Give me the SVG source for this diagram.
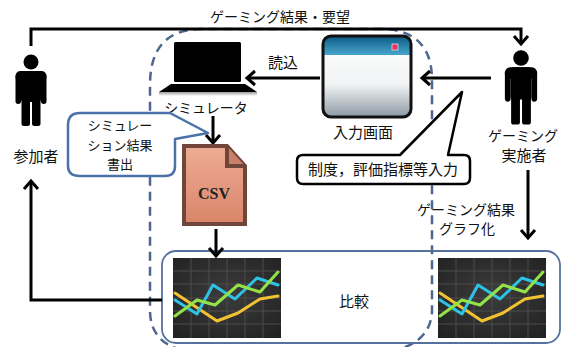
<svg xmlns="http://www.w3.org/2000/svg" xmlns:xlink="http://www.w3.org/1999/xlink" width="566" height="347" viewBox="0 0 566 347">
  <style>
    text { font-family: "Noto Sans CJK JP", "Noto Sans", sans-serif; fill: #111; text-anchor: middle; }
    .lbl { font-size: 14px; }
    .big { font-size: 15px; }
    .note { font-size: 13px; }
    .conn { fill: none; stroke: #000; stroke-width: 3; marker-end: url(#chev); }
    .zone { fill: none; stroke: #4d6690; stroke-width: 2.5; stroke-dasharray: 9 6; }
    .frame { fill: none; stroke: #56729c; stroke-width: 1.8; }
    .body { fill: #000; }
  </style>
  <defs>
    <marker id="chev" markerUnits="userSpaceOnUse" markerWidth="20" markerHeight="20" viewBox="-12 -10 14 20" refX="0" refY="0" orient="auto">
      <path d="M -8 -7 L 0 0 L -8 7" fill="none" stroke="#000" stroke-width="3"/>
    </marker>
    <!-- stick figure, head centred on the origin -->
    <g id="person">
      <circle cx="0" cy="0" r="7.5" class="body"/>
      <rect x="-15.5" y="9" width="31" height="11" rx="5" class="body"/>
      <rect x="-10" y="9" width="20" height="31" rx="3" class="body"/>
      <rect x="-15.5" y="12" width="5.5" height="30" rx="2.7" class="body"/>
      <rect x="10" y="12" width="5.5" height="30" rx="2.7" class="body"/>
      <rect x="-9.5" y="34" width="8.5" height="30" rx="2.5" class="body"/>
      <rect x="1" y="34" width="8.5" height="30" rx="2.5" class="body"/>
    </g>
    <radialGradient id="chartBg" cx="0.5" cy="0.45" r="0.7">
      <stop offset="0" stop-color="#3c3c3c"/>
      <stop offset="1" stop-color="#222"/>
    </radialGradient>
    <symbol id="chart" viewBox="0 0 108 80">
      <rect x="0" y="0" width="108" height="80" fill="url(#chartBg)"/>
      <g stroke="#4c4c4c" stroke-width="1">
        <path d="M18 0V80M36 0V80M54 0V80M72 0V80M90 0V80"/>
        <path d="M0 13H108M0 26H108M0 40H108M0 53H108M0 66H108"/>
      </g>
      <g fill="none" stroke-width="3" stroke-linejoin="round" stroke-linecap="round">
        <polyline points="2,35 44,63 65,55 87,41 105,38" stroke="#f2c233"/>
        <polyline points="2,42 24,56 40,27 62,41 84,20 105,27" stroke="#2cc3e6"/>
        <polyline points="2,58 24,42 42,47 65,27 87,34 105,14" stroke="#94e24a"/>
      </g>
    </symbol>
    <linearGradient id="titleBar" x1="0" y1="0" x2="0" y2="1">
      <stop offset="0" stop-color="#0b5a86"/>
      <stop offset="1" stop-color="#48a6cc"/>
    </linearGradient>
    <linearGradient id="winBody" x1="0" y1="0" x2="0" y2="1">
      <stop offset="0" stop-color="#ffffff"/>
      <stop offset="0.6" stop-color="#f1f3f4"/>
      <stop offset="1" stop-color="#8d9aa4"/>
    </linearGradient>
    <linearGradient id="csvFill" x1="0" y1="0" x2="0" y2="1">
      <stop offset="0" stop-color="#eeac94"/>
      <stop offset="1" stop-color="#d9856a"/>
    </linearGradient>
    <linearGradient id="laptopShade" x1="0" y1="0" x2="0" y2="1">
      <stop offset="0" stop-color="#9a9a9a"/>
      <stop offset="1" stop-color="#ffffff"/>
    </linearGradient>
    <clipPath id="winClip">
      <rect x="323" y="36" width="88" height="81" rx="8"/>
    </clipPath>
  </defs>

  <!-- simulation zone (dashed) -->
  <path class="zone" d="M 182 350 Q 150 342 150 310 L 150 85 Q 150 30 200 29 L 385 29 Q 432 32 432 80 L 432 312 Q 430 342 395 350"/>

  <!-- comparison frame -->
  <g id="compare">
    <rect class="frame" x="162" y="251" width="398" height="92" rx="14"/>
    <text class="big" x="354" y="307">比較</text>
  </g>

  <g id="connectors">
    <path class="conn" d="M 31 46 V 29 H 521 V 44"/>
    <path class="conn" d="M 320 78 H 247"/>
    <path class="conn" d="M 491 78 H 422"/>
    <path class="conn" d="M 213 116 V 143"/>
    <path class="conn" d="M 216 229 V 256"/>
    <path class="conn" d="M 162 300 H 31 V 181"/>
    <path class="conn" d="M 528 170 V 238"/>
    <text class="lbl" x="280" y="22">ゲーミング結果・要望</text>
    <text class="big" x="283" y="68">読込</text>
    <text class="lbl" x="466" y="215">ゲーミング結果</text>
    <text class="lbl" x="467" y="234">グラフ化</text>
  </g>

  <g id="participant">
    <use xlink:href="#person" href="#person" transform="translate(31 62)"/>
    <text class="big" x="36" y="162">参加者</text>
  </g>

  <g id="operator">
    <use xlink:href="#person" href="#person" transform="translate(521 58) scale(1.04)"/>
    <text class="lbl" x="523" y="141">ゲーミング</text>
    <text class="big" x="524" y="161">実施者</text>
  </g>

  <g id="simulator">
    <rect x="174" y="42" width="67" height="40" rx="1.5" fill="#000"/>
    <polygon points="171,84 245,84 257,92 159,92" fill="#000"/>
    <rect x="159" y="92" width="98" height="4" fill="url(#laptopShade)"/>
    <text class="lbl" x="206" y="113">シミュレータ</text>
  </g>

  <g id="input-screen">
    <g clip-path="url(#winClip)">
      <rect x="323" y="36" width="88" height="81" fill="url(#winBody)"/>
      <rect x="323" y="36" width="88" height="19" fill="url(#titleBar)"/>
    </g>
    <rect x="323" y="36" width="88" height="81" rx="8" fill="none" stroke="#111" stroke-width="3"/>
    <rect x="392" y="44" width="6" height="6" fill="#e2365e" stroke="#fff" stroke-width="0.6"/>
    <text class="big" x="363" y="138">入力画面</text>
  </g>

  <g id="csv">
    <path d="M 184 146 H 227 L 245 166 V 224 H 184 Z" fill="url(#csvFill)" stroke="#70463a" stroke-width="4" stroke-linejoin="miter"/>
    <path d="M 227 146 V 166 H 245" fill="#c98068" stroke="#70463a" stroke-width="4"/>
    <text x="214" y="199" style="font-family:'Liberation Serif',serif;font-weight:bold;font-size:16px;fill:#222">CSV</text>
  </g>

  <g id="chart-sim">
    <use xlink:href="#chart" href="#chart" x="173" y="258" width="108" height="80"/>
  </g>
  <g id="chart-game">
    <use xlink:href="#chart" href="#chart" x="438" y="258" width="108" height="80"/>
  </g>

  <g id="note-output">
    <path d="M 80 113 H 170 L 208 133 L 175 139 V 166 Q 175 176 165 176 H 80 Q 68 176 68 166 V 125 Q 68 113 80 113 Z" fill="#fff" stroke="#4a72a8" stroke-width="2.5" stroke-linejoin="round"/>
    <text class="note" x="120" y="130">シミュレー</text>
    <text class="note" x="120" y="150">ション結果</text>
    <text class="note" x="120" y="169">書出</text>
  </g>

  <g id="note-input">
    <path d="M 303 155 H 400 L 462 92 L 448 155 H 464 Q 470 155 470 161 V 178 Q 470 184 464 184 H 303 Q 297 184 297 178 V 161 Q 297 155 303 155 Z" fill="#fff" stroke="#000" stroke-width="2.5" stroke-linejoin="round"/>
    <text class="big" x="383" y="175">制度，評価指標等入力</text>
  </g>
</svg>
